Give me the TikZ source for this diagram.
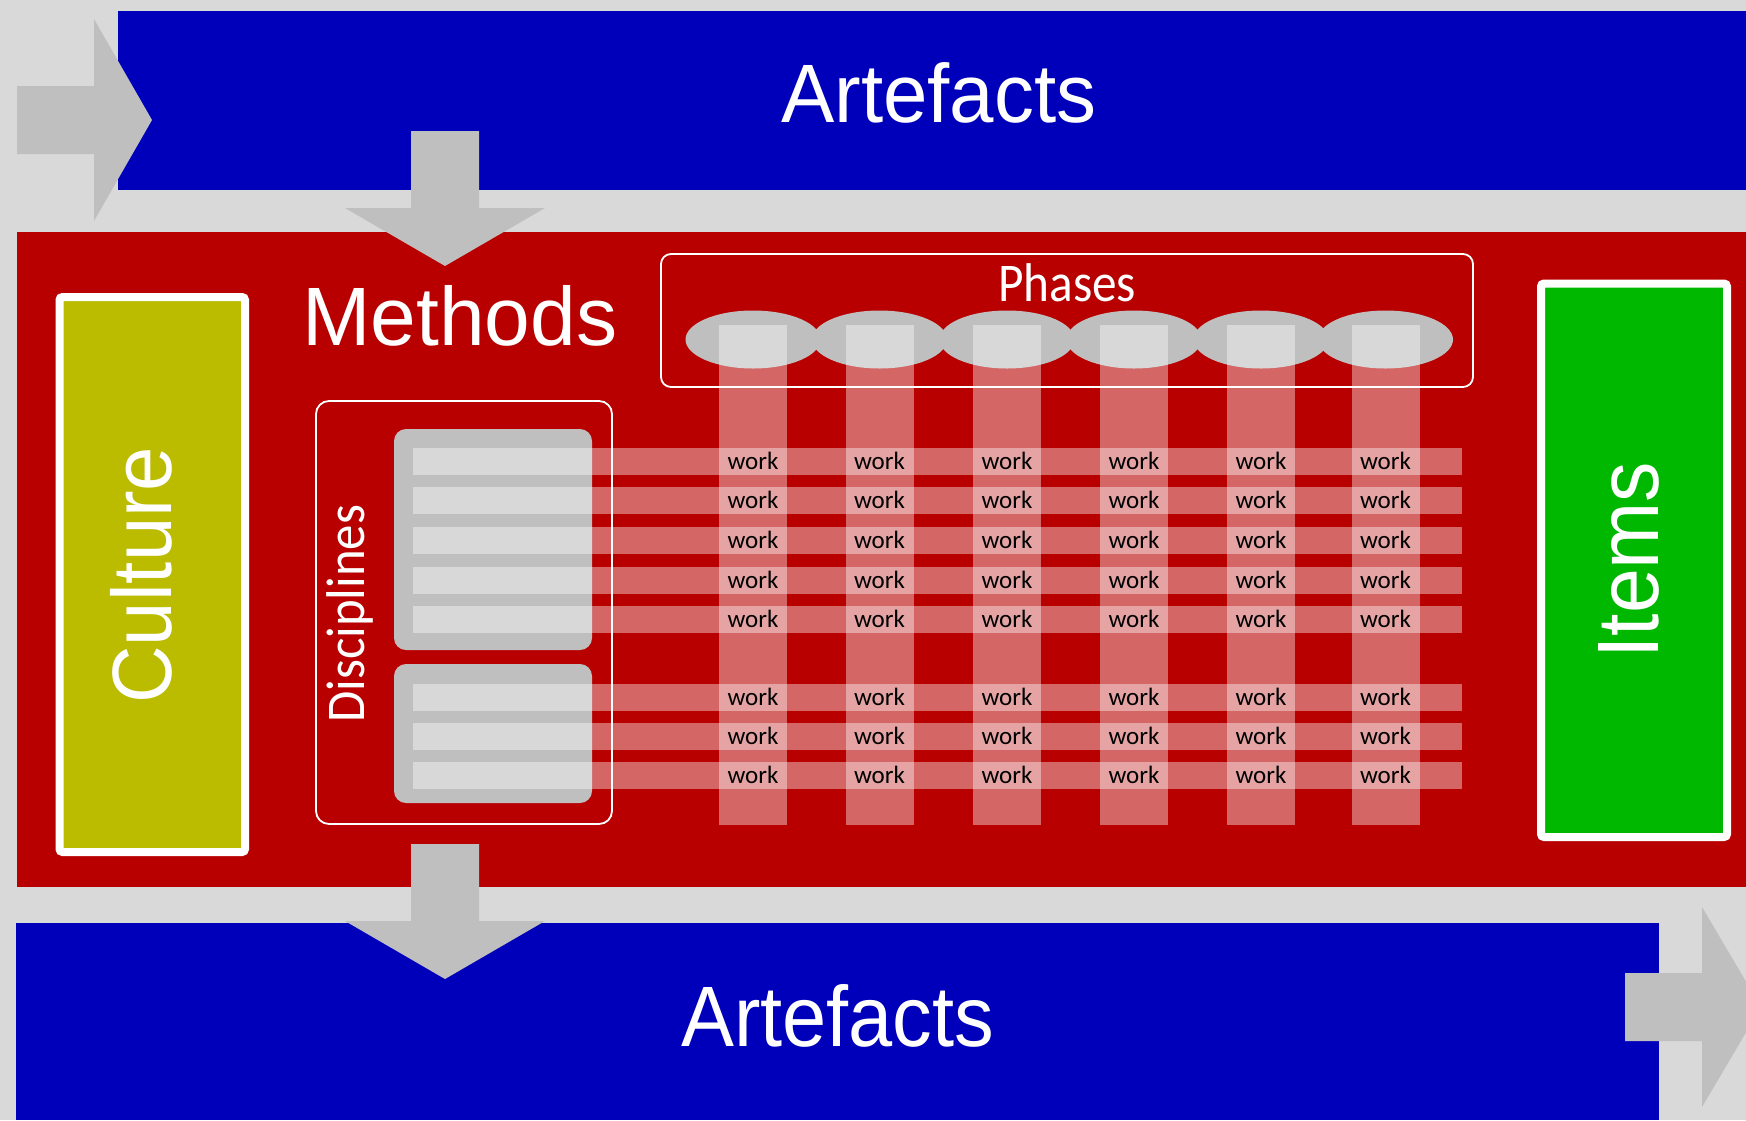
\documentclass[tikz,border=0pt]{standalone}
\usepackage{fontspec}
\setmainfont{Liberation Sans}
\newfontfamily\carl{Carlito}
\usepackage{graphicx}
\usetikzlibrary{shapes.geometric}
\definecolor{bgc}{HTML}{D9D9D9}
\definecolor{arrowgray}{HTML}{BFBFBF}
\definecolor{blueC}{HTML}{0000BB}
\definecolor{redC}{HTML}{B80000}
\definecolor{oliveC}{HTML}{BBBB00}
\definecolor{greenC}{HTML}{00B800}
\newcommand\fitt[3]{\resizebox{#1}{#2}{\raisebox{0pt}[\fontcharht\font`A][0pt]{#3}}}
\tikzset{
  bigtxt/.style={text=white, inner sep=0pt, anchor=south west},
  sidebox/.style={draw=white, line width=8pt, rounded corners=3pt, inner sep=0pt},
  framebox/.style={draw=white, line width=1.8pt, inner sep=0pt},
  graybox/.style={fill=arrowgray, rounded corners=12pt, inner sep=0pt},
  phase/.style={ellipse, fill=arrowgray, inner sep=0pt, minimum width=135pt, minimum height=58pt},
  veil/.style={fill=white, fill opacity=0.4},
  arrowshape/.style={fill=arrowgray},
  worktxt/.style={text=black, inner sep=0pt, anchor=base, font=\carl\fontsize{25}{25}\selectfont}
}
\begin{document}
\begin{tikzpicture}[x=1pt,y=-1pt]
\useasboundingbox (0,0) rectangle (1746,1120);
\clip (0,0) rectangle (1746,1120);
\fill[bgc] (0,0) rectangle (1746,1120);
% top artefacts band
\fill[blueC] (118,11) rectangle (1746,190);
\fill[arrowshape] (17,86) -- (94,86) -- (94,19) -- (152,120) -- (94,221) -- (94,154) -- (17,154) -- cycle;
% red methods area
\fill[redC] (16.5,232) rectangle (1746,887);
\fill[arrowshape] (411,131) -- (479,131) -- (479,208) -- (545,208) -- (445,266) -- (345,208) -- (411,208) -- cycle;
% bottom artefacts band
\fill[blueC] (16,923) rectangle (1659,1120);
\fill[arrowshape] (411,844) -- (479,844) -- (479,921) -- (545,921) -- (445,979) -- (345,921) -- (411,921) -- cycle;
\fill[arrowshape] (1625,973) -- (1702,973) -- (1702,907) -- (1761,1007) -- (1702,1107) -- (1702,1041) -- (1625,1041) -- cycle;
% side boxes
\node (culturebox) [sidebox, fill=oliveC, minimum width=185.5pt, minimum height=555pt] at (152.25,574.5) {};
\node (itemsbox) [sidebox, fill=greenC, minimum width=186pt, minimum height=553.5pt] at (1634,560.25) {};
% frames
\node (discbox) [framebox, rounded corners=13pt, minimum width=296pt, minimum height=423pt] at (464,612.5) {};
\node (phasebox) [framebox, rounded corners=10pt, minimum width=812pt, minimum height=133pt] at (1067,320.5) {};
% discipline gray boxes
\node (g1) [graybox, minimum width=198pt, minimum height=221pt] at (493,539.5) {};
\node (g2) [graybox, minimum width=198pt, minimum height=139pt] at (493,733.5) {};
% phase ellipses
\foreach \cx [count=\i] in {753,879.5,1007,1134,1261,1385.5} {
  \node (ph\i) [phase] at (\cx,339.5) {};
}
% columns
\foreach \cx in {753,879.5,1007,1134,1261,1385.5} {
  \fill[veil] (\cx-34,325) rectangle (\cx+34,825);
}
% rows
\foreach \ty in {448,487,527,567,606,684,723,762} {
  \fill[veil] (413,\ty) rectangle (1462,\ty+27);
}
% work labels
\foreach \ty [count=\r] in {448,487,527,567,606,684,723,762} {
  \foreach \cx [count=\c] in {753,879.5,1007,1134,1261,1385.5} {
    \node (w-\r-\c) [worktxt] at (\cx,\ty+21) {work};
  }
}
% titles
\node (art1) [bigtxt] at (781,123) {\fitt{315pt}{57pt}{Artefacts}};
\node (meth) [bigtxt] at (302,346) {\fitt{315pt}{57pt}{Methods}};
\node (art2) [bigtxt] at (681,1047) {\fitt{313pt}{59pt}{Artefacts}};
\node (cult) [bigtxt, rotate=90] at (172,704) {\fitt{257pt}{58pt}{Culture}};
\node (items) [bigtxt, rotate=90] at (1659,659) {\fitt{197pt}{60pt}{Items}};
\node (disc) [bigtxt, rotate=90, font=\carl] at (365,723) {\fitt{218pt}{35pt}{Disciplines}};
\node (phases) [bigtxt, font=\carl] at (998,302) {\fitt{138pt}{35pt}{Phases}};
\end{tikzpicture}
\end{document}
